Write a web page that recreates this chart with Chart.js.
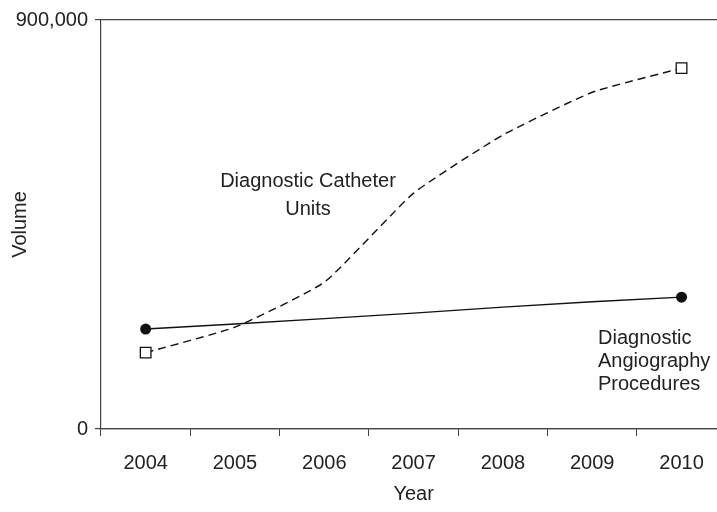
<!DOCTYPE html>
<html>
<head>
<meta charset="utf-8">
<script src="https://cdn.jsdelivr.net/npm/chart.js@4/dist/chart.umd.min.js"></script>
<style>
  html, body { margin: 0; padding: 0; background: #fff; overflow: hidden; }
  canvas { display: block; }
</style>
</head>
<body>
<canvas id="chart" width="735" height="512"></canvas>
<script>
const years = ['2004', '2005', '2006', '2007', '2008', '2009', '2010'];
const catheterUnits = [168000, 224000, 323000, 519000, 647000, 741000, 794000];
const angiographyProcedures = [220000, 231000, 243000, 255000, 268000, 280000, 290000];
const yTicks = [0, 900000];

const FONT = 'Liberation Sans, Arial, Helvetica, sans-serif';
const INK = '#222';
const LINE = '#111';

// free text labels beside the two curves
const labelPlugin = {
    id: 'curveLabels',
    afterDraw(chart) {
        const ctx = chart.ctx;
        ctx.save();
        ctx.fillStyle = INK;
        ctx.font = '20px ' + FONT;
        ctx.textBaseline = 'middle';
        ctx.textAlign = 'center';
        ctx.fillText('Diagnostic Catheter', 308, 181);
        ctx.fillText('Units', 308, 209);
        ctx.textAlign = 'left';
        ctx.fillText('Diagnostic', 598, 338);
        ctx.fillText('Angiography', 598, 361);
        ctx.fillText('Procedures', 598, 384);
        ctx.restore();
    }
};

const ctx = document.getElementById('chart').getContext('2d');
new Chart(ctx, {
    type: 'line',
    data: {
        labels: years,
        datasets: [
            {
                label: 'Diagnostic Catheter Units',
                data: catheterUnits,
                borderColor: LINE,
                borderWidth: 1.4,
                borderDash: [8, 5],
                tension: 0.15,
                pointStyle: 'rect',
                pointRadius: catheterUnits.map((v, i) => (i === 0 || i === catheterUnits.length - 1) ? 7.5 : 0),
                pointBackgroundColor: '#fff',
                pointBorderColor: LINE,
                pointBorderWidth: 1.3
            },
            {
                label: 'Diagnostic Angiography Procedures',
                data: angiographyProcedures,
                borderColor: LINE,
                borderWidth: 1.3,
                tension: 0,
                pointStyle: 'circle',
                pointRadius: angiographyProcedures.map((v, i) => (i === 0 || i === angiographyProcedures.length - 1) ? 5.5 : 0),
                pointBackgroundColor: LINE,
                pointBorderColor: LINE,
                pointBorderWidth: 0
            }
        ]
    },
    options: {
        responsive: false,
        animation: false,
        layout: { padding: { top: 20, left: 0, right: 0, bottom: 0 } },
        plugins: {
            legend: { display: false },
            tooltip: { enabled: false }
        },
        scales: {
            x: {
                offset: true,
                afterFit: scale => { scale.height = 83; },
                grid: {
                    offset: true,
                    drawOnChartArea: false,
                    drawTicks: true,
                    tickLength: 7,
                    color: '#444'
                },
                border: { color: '#444', width: 1.2 },
                ticks: {
                    color: INK,
                    padding: 15,
                    maxRotation: 0,
                    font: { family: FONT, size: 20 }
                },
                title: {
                    display: true,
                    text: 'Year',
                    color: INK,
                    font: { family: FONT, size: 20 },
                    padding: { top: 0, bottom: 6 }
                }
            },
            y: {
                min: 0,
                max: 900000,
                afterBuildTicks: scale => { scale.ticks = yTicks.map(v => ({ value: v })); },
                afterFit: scale => { scale.width = 101; },
                grid: {
                    drawOnChartArea: true,
                    tickLength: 6,
                    color: '#444',
                    lineWidth: 1.2
                },
                border: { color: '#444', width: 1.2 },
                ticks: {
                    color: INK,
                    padding: 7,
                    font: { family: FONT, size: 20 },
                    callback: v => v.toLocaleString('en-US')
                },
                title: {
                    display: true,
                    text: 'Volume',
                    color: INK,
                    font: { family: FONT, size: 20 },
                    padding: { top: 8, bottom: 0 }
                }
            }
        }
    },
    plugins: [labelPlugin]
});
</script>
</body>
</html>
